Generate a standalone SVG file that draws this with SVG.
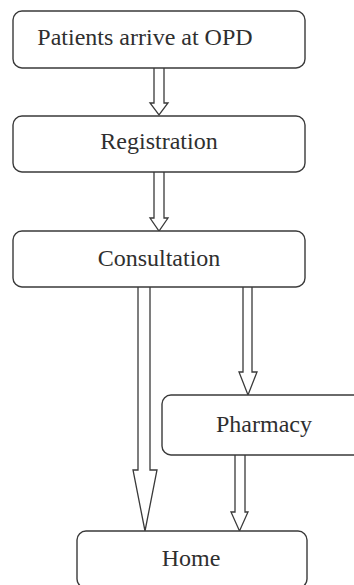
<svg xmlns="http://www.w3.org/2000/svg" width="354" height="585" viewBox="0 0 354 585">
<style>
.box{fill:#fff;stroke:#3a3a3a;stroke-width:1.4}
.lbl{font-family:"Liberation Serif","Times New Roman",serif;font-size:24px;fill:#2f2f2f;text-anchor:middle}
.arr{fill:#fff;stroke:#3a3a3a;stroke-width:1.3;stroke-linejoin:miter}
</style>
<rect width="354" height="585" fill="#fff"/>
<g id="connectors">
<path class="arr" d="M154,68 V103 H150 L159,115 L168,103 H164 V68"/>
<path class="arr" d="M154,172 V218 H150 L159,231 L168,218 H164 V172"/>
<path class="arr" d="M138,287 V470 H133 L145,531 L157,470 H150 V287"/>
<path class="arr" d="M243,287 V372 H239 L248,395 L257,372 H252 V287"/>
<path class="arr" d="M235,455 V512 H231 L239.5,531 L248,512 H245 V455"/>
</g>
<g id="n1"><rect class="box" x="13" y="11" width="292" height="57" rx="9"/><text class="lbl" x="145" y="45">Patients arrive at OPD</text></g>
<g id="n2"><rect class="box" x="13" y="116" width="292" height="56" rx="9"/><text class="lbl" x="159" y="149">Registration</text></g>
<g id="n3"><rect class="box" x="13" y="231" width="292" height="56" rx="9"/><text class="lbl" x="159" y="266">Consultation</text></g>
<g id="n4"><rect class="box" x="162" y="395" width="205" height="60" rx="9"/><text class="lbl" x="264" y="432">Pharmacy</text></g>
<g id="n5"><rect class="box" x="77" y="531" width="230" height="57" rx="9"/><text class="lbl" x="191" y="566">Home</text></g>
</svg>
